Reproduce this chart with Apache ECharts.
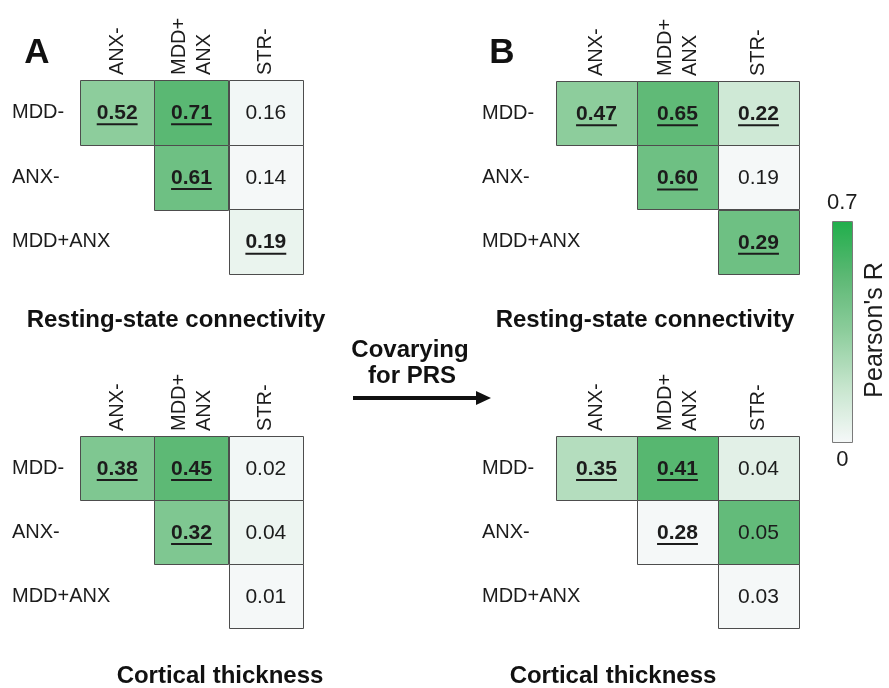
<!DOCTYPE html>
<html><head><meta charset="utf-8">
<script src="https://cdn.jsdelivr.net/npm/echarts@6/dist/echarts.min.js"></script>
<style>html,body{margin:0;padding:0;background:#fff}#c{width:889px;height:688px}</style>
</head><body><div id="c"></div>
<script>
// ---- data ----
const rowLabels = ['MDD-', 'ANX-', 'MDD+ANX'];
const colLabels = ['ANX-', 'MDD+\nANX', 'STR-'];
// upper-triangle cells (row, col)
const cellRows = [0, 0, 0, 1, 1, 2];
const cellCols = [0, 1, 2, 1, 2, 2];

// A: resting-state connectivity
const restA      = [0.52, 0.71, 0.16, 0.61, 0.14, 0.19];
const restASig   = [1, 1, 0, 1, 0, 1];
const restAShade = [0.35, 0.53, 0.01, 0.46, 0.00, 0.04];
// B: resting-state connectivity, covarying for PRS
const restB      = [0.47, 0.65, 0.22, 0.60, 0.19, 0.29];
const restBSig   = [1, 1, 1, 1, 0, 1];
const restBShade = [0.35, 0.51, 0.14, 0.46, 0.00, 0.46];
// A: cortical thickness
const cortA      = [0.38, 0.45, 0.02, 0.32, 0.04, 0.01];
const cortASig   = [1, 1, 0, 1, 0, 0];
const cortAShade = [0.40, 0.52, 0.01, 0.40, 0.03, 0.00];
// B: cortical thickness, covarying for PRS
const cortB      = [0.35, 0.41, 0.04, 0.28, 0.05, 0.03];
const cortBSig   = [1, 1, 0, 1, 0, 0];
const cortBShade = [0.23, 0.54, 0.07, 0.00, 0.50, 0.00];

const colorMin = 0, colorMax = 0.7;
const colorbarLabels = ['0.7', '0'];

// ---- rendering ----
const FONT = '"Liberation Sans", Arial, sans-serif';
const TXT = '#1c1c1c';
const mctx = document.createElement('canvas').getContext('2d');
function measure(t, f) { mctx.font = f; return mctx.measureText(t).width; }

function buildData(vals, sig, shade) {
  return vals.map((v, i) => [cellCols[i], cellRows[i], v, shade[i], sig[i]]);
}

function renderCell(params, api) {
  const c = api.value(0), r = api.value(1), v = api.value(2), s = api.value(4);
  const ctr = api.coord([c, r]);
  const sz = api.size([1, 1]);
  const txt = v.toFixed(2);
  const font = (s ? 'bold ' : '') + '21px ' + FONT;
  const children = [
    { type: 'rect',
      shape: { x: Math.round(ctr[0] - sz[0] / 2) + 0.5, y: Math.round(ctr[1] - sz[1] / 2) + 0.5, width: Math.round(sz[0]), height: Math.round(sz[1]) },
      style: { fill: api.visual('color'), stroke: '#4d4d4d', lineWidth: 1 } },
    { type: 'text',
      style: { text: txt, x: ctr[0], y: ctr[1] + 1, align: 'center', verticalAlign: 'middle', font: font, fill: TXT } }
  ];
  if (s) {
    const w = measure(txt, font);
    children.push({ type: 'line', shape: { x1: ctr[0] - w / 2, y1: ctr[1] + 12, x2: ctr[0] + w / 2, y2: ctr[1] + 12 },
      style: { stroke: TXT, lineWidth: 2 } });
  }
  return { type: 'group', children: children };
}

const grids = [
  { left: 80,  top: 80,  width: 223, height: 194, labelX: 12 },
  { left: 556, top: 81,  width: 243, height: 193, labelX: 482 },
  { left: 80,  top: 436, width: 223, height: 192, labelX: 12 },
  { left: 556, top: 436, width: 243, height: 192, labelX: 482 }
];
const panelData = [
  buildData(restA, restASig, restAShade),
  buildData(restB, restBSig, restBShade),
  buildData(cortA, cortASig, cortAShade),
  buildData(cortB, cortBSig, cortBShade)
];

const option = {
  animation: false,
  backgroundColor: '#ffffff',
  textStyle: { fontFamily: FONT },
  grid: grids.map(g => ({ left: g.left, top: g.top, width: g.width, height: g.height })),
  xAxis: grids.map((g, i) => ({
    type: 'category', gridIndex: i, data: colLabels, position: 'top',
    axisLine: { show: false }, axisTick: { show: false }, splitLine: { show: false },
    axisLabel: { rotate: -90, margin: 5, fontSize: 20, lineHeight: 25, color: TXT, fontFamily: FONT, interval: 0 }
  })),
  yAxis: grids.map((g, i) => ({
    type: 'category', gridIndex: i, data: rowLabels, inverse: true,
    axisLine: { show: false }, axisTick: { show: false }, splitLine: { show: false },
    axisLabel: { align: 'left', margin: g.left - g.labelX, fontSize: 20, color: TXT, fontFamily: FONT }
  })),
  visualMap: {
    type: 'continuous', min: colorMin, max: colorMax, dimension: 3,
    seriesIndex: [0, 1, 2, 3], calculable: false, orient: 'vertical',
    left: 812, top: 177, itemWidth: 20, itemHeight: 221, textGap: 7,
    text: colorbarLabels,
    textStyle: { fontSize: 22, color: TXT, fontFamily: FONT },
    inRange: { color: ['#f5f8f8', '#c6e5cd', '#8dcd9c', '#5cb874', '#20ae4b'] }
  },
  series: panelData.map((d, i) => ({
    type: 'custom', xAxisIndex: i, yAxisIndex: i, data: d,
    encode: { x: 0, y: 1 }, renderItem: renderCell, silent: true
  })),
  graphic: [
    { type: 'text', x: 37, y: 53, style: { text: 'A', font: 'bold 35px ' + FONT, align: 'center', verticalAlign: 'middle', fill: '#111' } },
    { type: 'text', x: 502, y: 53, style: { text: 'B', font: 'bold 35px ' + FONT, align: 'center', verticalAlign: 'middle', fill: '#111' } },
    { type: 'text', x: 176, y: 320, style: { text: 'Resting-state connectivity', font: 'bold 24px ' + FONT, align: 'center', verticalAlign: 'middle', fill: '#111' } },
    { type: 'text', x: 645, y: 320, style: { text: 'Resting-state connectivity', font: 'bold 24px ' + FONT, align: 'center', verticalAlign: 'middle', fill: '#111' } },
    { type: 'text', x: 220, y: 676, style: { text: 'Cortical thickness', font: 'bold 24px ' + FONT, align: 'center', verticalAlign: 'middle', fill: '#111' } },
    { type: 'text', x: 613, y: 676, style: { text: 'Cortical thickness', font: 'bold 24px ' + FONT, align: 'center', verticalAlign: 'middle', fill: '#111' } },
    { type: 'text', x: 410, y: 350, style: { text: 'Covarying', font: 'bold 24px ' + FONT, align: 'center', verticalAlign: 'middle', fill: '#111' } },
    { type: 'text', x: 412, y: 376, style: { text: 'for PRS', font: 'bold 24px ' + FONT, align: 'center', verticalAlign: 'middle', fill: '#111' } },
    { type: 'line', shape: { x1: 353, y1: 398, x2: 478, y2: 398 }, style: { stroke: '#111', lineWidth: 4 } },
    { type: 'polygon', shape: { points: [[476, 391], [491, 398], [476, 405]] }, style: { fill: '#111' } },
    { type: 'rect', shape: { x: 832.5, y: 221.5, width: 20, height: 221 }, style: { fill: 'none', stroke: '#7a7a7a', lineWidth: 1 }, z: 100 },
    { type: 'text', x: 875, y: 330, rotation: Math.PI / 2, style: { text: "Pearson's R", font: '25px ' + FONT, align: 'center', verticalAlign: 'middle', fill: TXT } }
  ]
};

const chart = echarts.init(document.getElementById('c'), null, { renderer: 'canvas' });
chart.setOption(option);
</script>
</body></html>
